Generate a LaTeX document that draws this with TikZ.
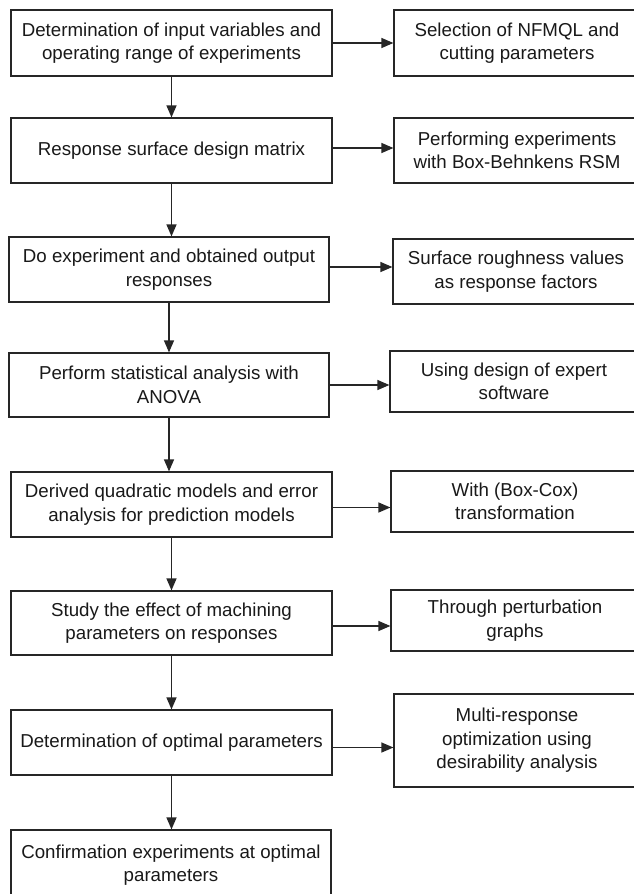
\documentclass[tikz,border=0pt]{standalone}
\usepackage{fontspec}
\setmainfont{Liberation Sans}
\usetikzlibrary{arrows.meta}
\begin{document}
\begin{tikzpicture}[x=1pt,y=-1pt,
  box/.style={draw=black!85, line width=1.2pt, align=center, inner sep=0pt,
    font=\fontsize{18.7}{23.5}\selectfont, text=black!90},
  arr/.style={draw=black!85, line width=1.2pt, -{Triangle[length=12pt,width=10pt]}}]
\clip (0,0) rectangle (634,894);
\useasboundingbox (0,0) rectangle (634,894);
\fill[white] (0,0) rectangle (634,894);
% left column
\node[box, minimum width=321, minimum height=66] (b1) at (171.5,43) {Determination of input variables and\\operating range of experiments};
\node[box, minimum width=321, minimum height=65] (b2) at (171.5,150.5) {Response surface design matrix};
\node[box, minimum width=320, minimum height=65] (b3) at (169,269.5) {Do experiment and obtained output\\responses};
\node[box, minimum width=320, minimum height=64] (b4) at (169,385) {Perform statistical analysis with\\ANOVA};
\node[box, minimum width=321, minimum height=65] (b5) at (171.5,504.5) {Derived quadratic models and error\\analysis for prediction models};
\node[box, minimum width=321, minimum height=64] (b6) at (171.5,623) {Study the effect of machining\\parameters on responses};
\node[box, minimum width=321, minimum height=65] (b7) at (171.5,742.5) {Determination of optimal parameters};
\node[box, minimum width=320, minimum height=70] (b8) at (171,865) {Confirmation experiments at optimal\\parameters};
% right column
\node[box, minimum width=246, minimum height=66] (r1) at (517,43) {Selection of NFMQL and\\cutting parameters};
\node[box, minimum width=246, minimum height=65] (r2) at (517,150.5) {Performing experiments\\with Box-Behnkens RSM};
\node[box, minimum width=246, minimum height=65] (r3) at (516,271.5) {Surface roughness values\\as response factors};
\node[box, minimum width=248, minimum height=61] (r4) at (514,381.5) {Using design of expert\\software};
\node[box, minimum width=248, minimum height=61] (r5) at (515,501.5) {With (Box-Cox)\\transformation};
\node[box, minimum width=248, minimum height=61] (r6) at (515,620.5) {Through perturbation\\graphs};
\node[box, minimum width=246, minimum height=93] (r7) at (517,740.5) {Multi-response\\optimization using\\desirability analysis};
% vertical arrows
\draw[arr] (b1.south) -- (b1.south |- b2.north);
\draw[arr] (b2.south) -- (b2.south |- b3.north);
\draw[arr] (b3.south) -- (b3.south |- b4.north);
\draw[arr] (b4.south) -- (b4.south |- b5.north);
\draw[arr] (b5.south) -- (b5.south |- b6.north);
\draw[arr] (b6.south) -- (b6.south |- b7.north);
\draw[arr] (b7.south) -- (b7.south |- b8.north);
% horizontal arrows
\draw[arr] (b1.east) -- (b1.east -| r1.west);
\draw[arr] ([yshift=2.5]b2.east) -- ([yshift=2.5]b2.east -| r2.west);
\draw[arr] ([yshift=2.5]b3.east) -- ([yshift=2.5]b3.east -| r3.west);
\draw[arr] (b4.east) -- (b4.east -| r4.west);
\draw[arr] ([yshift=-3]b5.east) -- ([yshift=-3]b5.east -| r5.west);
\draw[arr] ([yshift=-3]b6.east) -- ([yshift=-3]b6.east -| r6.west);
\draw[arr] ([yshift=-5]b7.east) -- ([yshift=-5]b7.east -| r7.west);
\end{tikzpicture}
\end{document}
